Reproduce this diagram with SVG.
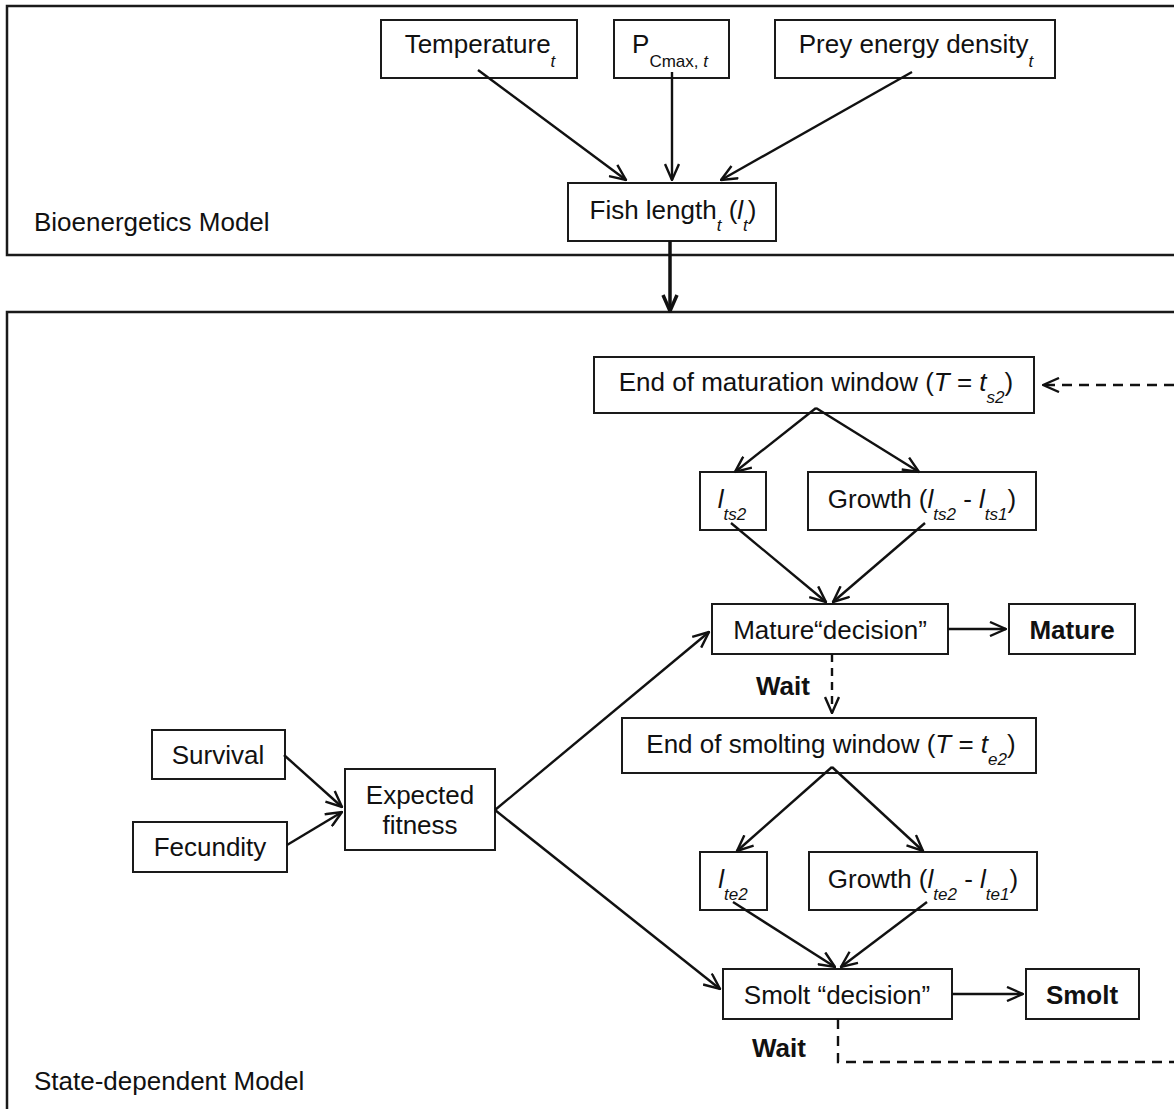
<svg xmlns="http://www.w3.org/2000/svg" width="1174" height="1109" viewBox="0 0 1174 1109">
<defs>
<style>
.panel{fill:none;stroke:#1a1a1a;stroke-width:2.5}
.box{fill:#fff;stroke:#1a1a1a;stroke-width:2}
.t{font-family:"Liberation Sans",Arial,sans-serif;font-size:26px;fill:#111}
.lab{font-family:"Liberation Sans",Arial,sans-serif;font-size:26px;fill:#111}
.b{font-weight:bold}
.i{font-style:italic}
.sub{font-size:17px;font-style:italic}
.c{fill:none;stroke:#111;stroke-width:2.4}
.d{fill:none;stroke:#111;stroke-width:2.4;stroke-dasharray:10 7}
.thick{fill:none;stroke:#111;stroke-width:3.5}
</style>
<marker id="ah" viewBox="0 0 18 16" refX="17" refY="8" markerWidth="18" markerHeight="16" markerUnits="userSpaceOnUse" orient="auto">
<path d="M1,1 L17,8 L1,15" fill="none" stroke="#111" stroke-width="2.4"/>
</marker>
<marker id="ahb" viewBox="0 0 20 18" refX="18" refY="9" markerWidth="20" markerHeight="18" markerUnits="userSpaceOnUse" orient="auto">
<path d="M2,2 L18,9 L2,16" fill="none" stroke="#111" stroke-width="3.5"/>
</marker>
</defs>
<rect width="1174" height="1109" fill="#fff"/>

<g id="panel-bioenergetics">
<rect class="panel" x="7" y="6" width="1180" height="249"/>
<text class="lab" x="34" y="231">Bioenergetics Model</text>
</g>
<g id="panel-state">
<rect class="panel" x="7" y="312" width="1180" height="820"/>
<text class="lab" x="34" y="1090">State-dependent Model</text>
</g>

<g id="temperature">
<rect class="box" x="381" y="20" width="196" height="58"/>
<text class="t" x="480" y="53" text-anchor="middle">Temperature<tspan class="sub" dy="14">t</tspan></text>
</g>
<g id="pcmax">
<rect class="box" x="614" y="20" width="115" height="58"/>
<text class="t" x="670" y="53" text-anchor="middle">P<tspan font-size="17px" dy="14">Cmax, </tspan><tspan class="sub">t</tspan></text>
</g>
<g id="prey">
<rect class="box" x="775" y="20" width="280" height="58"/>
<text class="t" x="916" y="53" text-anchor="middle">Prey energy density<tspan class="sub" dy="14">t</tspan></text>
</g>
<g id="fishlength">
<rect class="box" x="568" y="183" width="208" height="58"/>
<text class="t" x="673" y="219" text-anchor="middle">Fish length<tspan class="sub" dy="12">t</tspan><tspan dy="-12"> (</tspan><tspan class="i">l</tspan><tspan class="sub" dy="12">t</tspan><tspan dy="-12">)</tspan></text>
</g>

<g id="end-maturation">
<rect class="box" x="594" y="357" width="440" height="56"/>
<text class="t" x="816" y="391" text-anchor="middle">End of maturation window (<tspan class="i">T</tspan> = <tspan class="i">t</tspan><tspan class="sub" dy="12">s2</tspan><tspan dy="-12">)</tspan></text>
</g>
<g id="l-ts2">
<rect class="box" x="700" y="472" width="66" height="58"/>
<text class="t" x="732" y="508" text-anchor="middle"><tspan class="i">l</tspan><tspan class="sub" dy="12">ts2</tspan></text>
</g>
<g id="growth-ts">
<rect class="box" x="808" y="472" width="228" height="58"/>
<text class="t" x="922" y="508" text-anchor="middle">Growth (<tspan class="i">l</tspan><tspan class="sub" dy="12">ts2</tspan><tspan dy="-12"> - </tspan><tspan class="i">l</tspan><tspan class="sub" dy="12">ts1</tspan><tspan dy="-12">)</tspan></text>
</g>
<g id="mature-decision">
<rect class="box" x="712" y="604" width="236" height="50"/>
<text class="t" x="830" y="639" text-anchor="middle">Mature“decision”</text>
</g>
<g id="mature">
<rect class="box" x="1009" y="604" width="126" height="50"/>
<text class="t b" x="1072" y="639" text-anchor="middle">Mature</text>
</g>
<g id="end-smolting">
<rect class="box" x="622" y="718" width="414" height="55"/>
<text class="t" x="831" y="753" text-anchor="middle">End of smolting window (<tspan class="i">T</tspan> = <tspan class="i">t</tspan><tspan class="sub" dy="12">e2</tspan><tspan dy="-12">)</tspan></text>
</g>
<g id="l-te2">
<rect class="box" x="700" y="852" width="67" height="58"/>
<text class="t" x="733" y="888" text-anchor="middle"><tspan class="i">l</tspan><tspan class="sub" dy="12">te2</tspan></text>
</g>
<g id="growth-te">
<rect class="box" x="809" y="852" width="228" height="58"/>
<text class="t" x="923" y="888" text-anchor="middle">Growth (<tspan class="i">l</tspan><tspan class="sub" dy="12">te2</tspan><tspan dy="-12"> - </tspan><tspan class="i">l</tspan><tspan class="sub" dy="12">te1</tspan><tspan dy="-12">)</tspan></text>
</g>
<g id="smolt-decision">
<rect class="box" x="723" y="969" width="229" height="50"/>
<text class="t" x="837" y="1004" text-anchor="middle">Smolt “decision”</text>
</g>
<g id="smolt">
<rect class="box" x="1026" y="969" width="113" height="50"/>
<text class="t b" x="1082" y="1004" text-anchor="middle">Smolt</text>
</g>
<g id="survival">
<rect class="box" x="152" y="730" width="133" height="49"/>
<text class="t" x="218" y="764" text-anchor="middle">Survival</text>
</g>
<g id="fecundity">
<rect class="box" x="133" y="822" width="154" height="50"/>
<text class="t" x="210" y="856" text-anchor="middle">Fecundity</text>
</g>
<g id="expected-fitness">
<rect class="box" x="345" y="769" width="150" height="81"/>
<text class="t" x="420" y="804" text-anchor="middle">Expected</text>
<text class="t" x="420" y="834" text-anchor="middle">fitness</text>
</g>

<g id="connectors">
<line class="c" x1="478" y1="70" x2="626" y2="180" marker-end="url(#ah)"/>
<line class="c" x1="672" y1="72" x2="672" y2="180" marker-end="url(#ah)"/>
<line class="c" x1="912" y1="72" x2="721" y2="180" marker-end="url(#ah)"/>
<line class="thick" x1="670" y1="241" x2="670" y2="311" marker-end="url(#ahb)"/>

<line class="d" x1="1174" y1="385" x2="1043" y2="385" marker-end="url(#ah)"/>
<line class="c" x1="816" y1="408" x2="735" y2="472" marker-end="url(#ah)"/>
<line class="c" x1="816" y1="408" x2="919" y2="472" marker-end="url(#ah)"/>
<line class="c" x1="731" y1="523" x2="826" y2="602" marker-end="url(#ah)"/>
<line class="c" x1="925" y1="523" x2="833" y2="602" marker-end="url(#ah)"/>
<line class="c" x1="948" y1="629" x2="1006" y2="629" marker-end="url(#ah)"/>
<line class="c" x1="832" y1="654" x2="832" y2="713" stroke-dasharray="8 6" marker-end="url(#ah)"/>
<text class="t b" x="756" y="695">Wait</text>

<line class="c" x1="832" y1="767" x2="737" y2="851" marker-end="url(#ah)"/>
<line class="c" x1="832" y1="767" x2="923" y2="851" marker-end="url(#ah)"/>
<line class="c" x1="733" y1="902" x2="835" y2="967" marker-end="url(#ah)"/>
<line class="c" x1="927" y1="902" x2="841" y2="967" marker-end="url(#ah)"/>
<line class="c" x1="952" y1="994" x2="1023" y2="994" marker-end="url(#ah)"/>
<polyline class="d" points="838,1019 838,1062 1174,1062"/>
<text class="t b" x="752" y="1057">Wait</text>

<line class="c" x1="284" y1="755" x2="342" y2="807" marker-end="url(#ah)"/>
<line class="c" x1="287" y1="845" x2="342" y2="812" marker-end="url(#ah)"/>
<line class="c" x1="495" y1="810" x2="709" y2="632" marker-end="url(#ah)"/>
<line class="c" x1="495" y1="810" x2="720" y2="989" marker-end="url(#ah)"/>
</g>
</svg>
